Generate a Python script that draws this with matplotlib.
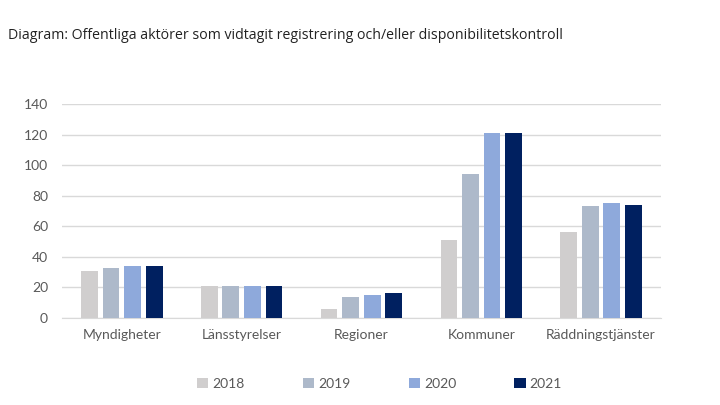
import numpy as np
import matplotlib.pyplot as plt

categories = ["Myndigheter", "Länsstyrelser", "Regioner", "Kommuner", "Räddningstjänster"]
years = ["2018", "2019", "2020", "2021"]
v2018 = [31, 21, 6, 51, 56]
v2019 = [33, 21, 14, 94, 73]
v2020 = [34, 21, 15, 121, 75]
v2021 = [34, 21, 16, 121, 74]
series = [v2018, v2019, v2020, v2021]
colors = ["#D0CECE", "#ADB9CA", "#8EA9DB", "#002060"]

plt.rcParams['font.family'] = ['Lato', 'DejaVu Sans']

fig = plt.figure(figsize=(7.2, 4.05), dpi=100)
ax = fig.add_axes([0.086, 0.215, 0.832, 0.528])

x = np.arange(len(categories))
w = 0.14
step = 0.18
for i, (vals, c) in enumerate(zip(series, colors)):
    ax.bar(x + (i - 1.5) * step, vals, width=w, color=c, label=years[i], zorder=3)

ax.set_xlim(-0.5, len(categories) - 0.5)
ax.set_ylim(0, 140)
ax.set_yticks(range(0, 141, 20))
ax.set_xticks(x)
ax.set_xticklabels(categories)
ax.grid(axis='y', color='#D9D9D9', linewidth=1, zorder=0)
for s in ['top', 'right', 'left']:
    ax.spines[s].set_visible(False)
ax.spines['bottom'].set_color('#D9D9D9')
ax.tick_params(axis='both', length=0, colors='#595959', labelsize=10)
ax.tick_params(axis='x', pad=8)
ax.tick_params(axis='y', pad=10)

fig.text(0.011, 0.903, "Diagram: Offentliga aktörer som vidtagit registrering och/eller disponibilitetskontroll",
         fontsize=10.2, color='#222222', family=['Open Sans', 'DejaVu Sans'])

fig.legend(loc='center', bbox_to_anchor=(0.527, 0.052), ncol=4, frameon=False,
           handlelength=0.8, handleheight=0.8, handletextpad=0.3, columnspacing=4.2,
           fontsize=10, labelcolor='#595959')

fig.savefig("out.png", dpi=100)
